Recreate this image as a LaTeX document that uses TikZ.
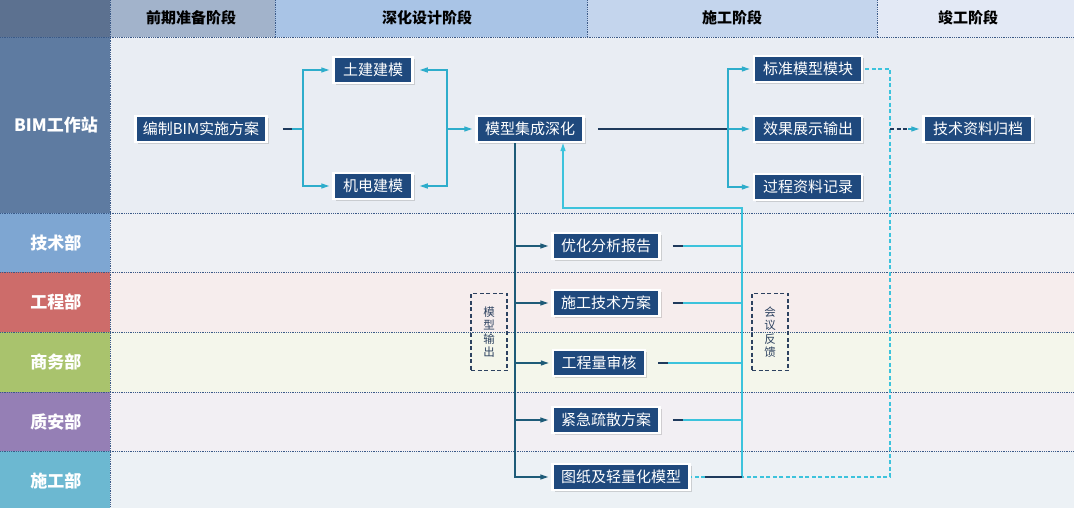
\documentclass[tikz,border=0pt]{standalone}
\usepackage{fontspec}
\setmainfont{Noto Sans CJK SC}
\usetikzlibrary{arrows.meta,shadows}
\definecolor{nodeblue}{HTML}{1F497D}
\definecolor{hdL}{HTML}{5C7190}
\definecolor{hdA}{HTML}{A2B3CB}
\definecolor{hdB}{HTML}{A9C4E6}
\definecolor{hdC}{HTML}{C4D5ED}
\definecolor{hdD}{HTML}{E3E9F5}
\definecolor{cBIM}{HTML}{5E7BA1}
\definecolor{cJS}{HTML}{7EA6D2}
\definecolor{cGC}{HTML}{CD6C6A}
\definecolor{cSW}{HTML}{A9C36D}
\definecolor{cZA}{HTML}{957FB5}
\definecolor{cSG}{HTML}{6CB8D1}
\definecolor{bBIM}{HTML}{E9EDF3}
\definecolor{bJS}{HTML}{EEF0F4}
\definecolor{bGC}{HTML}{F6EDED}
\definecolor{bSW}{HTML}{F4F6EB}
\definecolor{bZA}{HTML}{F2EFF3}
\definecolor{bSG}{HTML}{ECF1F5}
\definecolor{gridc}{HTML}{3B5A88}
\definecolor{cyanl}{HTML}{2EADCB}
\definecolor{feedc}{HTML}{3CC3DC}
\definecolor{darkl}{HTML}{1E5B78}
\definecolor{navyl}{HTML}{1F3A5C}
\definecolor{boxdash}{HTML}{2D4260}
\begin{document}
\begin{tikzpicture}[x=1pt,y=-1pt,
  box/.style={fill=nodeblue,draw=white,line width=2.5pt,text=white,
    font=\fontsize{15}{16}\selectfont,minimum height=26pt,inner xsep=4pt,inner ysep=0pt,
    drop shadow={shadow xshift=2pt,shadow yshift=-2pt,opacity=0.3}},
  lane/.style={text=white,font=\bfseries\fontsize{17}{19}\selectfont},
  phase/.style={text=black,font=\bfseries\fontsize{15}{17}\selectfont},
  grid/.style={draw=gridc,line width=0.9pt,dash pattern=on 0.9pt off 0.9pt},
  tip/.style={-{Triangle[length=8pt,width=5pt]}},
  cy/.style={draw=cyanl,line width=1.3pt},
  dk/.style={draw=darkl,line width=1.3pt},
  fb/.style={draw=feedc,line width=1.3pt},
  dcy/.style={draw=feedc,line width=1.3pt,dash pattern=on 4pt off 2.5pt},
  note/.style={draw=boxdash,line width=1.4pt,dash pattern=on 4pt off 2.5pt,
    minimum width=36pt,minimum height=77pt,text=boxdash,align=center,
    font=\fontsize{11.5}{13.5}\selectfont}]
\useasboundingbox (0,0) rectangle (1074,508);
% header
\fill[hdL] (0,0) rectangle (110,37);
\fill[hdA] (110,0) rectangle (275,37);
\fill[hdB] (275,0) rectangle (587,37);
\fill[hdC] (587,0) rectangle (877,37);
\fill[hdD] (877,0) rectangle (1074,37);
% lanes
\fill[cBIM] (0,37) rectangle (110,213);
\fill[cJS] (0,213) rectangle (110,272);
\fill[cGC] (0,272) rectangle (110,332);
\fill[cSW] (0,332) rectangle (110,392);
\fill[cZA] (0,392) rectangle (110,451);
\fill[cSG] (0,451) rectangle (110,508);
\fill[bBIM] (110,37) rectangle (1074,213);
\fill[bJS] (110,213) rectangle (1074,272);
\fill[bGC] (110,272) rectangle (1074,332);
\fill[bSW] (110,332) rectangle (1074,392);
\fill[bZA] (110,392) rectangle (1074,451);
\fill[bSG] (110,451) rectangle (1074,508);
% grid
\foreach \yy in {37,213,272,332,392,451} \draw[grid] (0,\yy) -- (1074,\yy);
\draw[grid] (110,0) -- (110,508);
\foreach \xx in {275,587,877} \draw[grid] (\xx,0) -- (\xx,37);
% header texts
\node[phase] (p1) at (191,18) {前期准备阶段};
\node[phase] (p2) at (427,18) {深化设计阶段};
\node[phase] (p3) at (732,18) {施工阶段};
\node[phase] (p4) at (968,18) {竣工阶段};
% lane texts
\node[lane] (l1) at (56,125) {BIM工作站};
\node[lane] (l2) at (56,243) {技术部};
\node[lane] (l3) at (56,302) {工程部};
\node[lane] (l4) at (56,362) {商务部};
\node[lane] (l5) at (56,422) {质安部};
\node[lane] (l6) at (56,481) {施工部};
% nodes
\node[box,minimum width=131pt] (plan) at (201,129) {编制BIM实施方案};
\node[box,minimum width=79pt] (tujian) at (373,70) {土建建模};
\node[box,minimum width=79pt] (jidian) at (373,186) {机电建模};
\node[box,minimum width=107pt] (jicheng) at (530,129) {模型集成深化};
\node[box,minimum width=108pt] (biaozhun) at (808,69) {标准模型模块};
\node[box,minimum width=108pt] (xiaoguo) at (808,129) {效果展示输出};
\node[box,minimum width=108pt] (guocheng) at (808,187) {过程资料记录};
\node[box,minimum width=109pt] (guidang) at (978,129) {技术资料归档};
\node[box,minimum width=107pt] (youhua) at (606,246) {优化分析报告};
\node[box,minimum width=107pt] (shigong) at (606,303) {施工技术方案};
\node[box,minimum width=92pt] (gongcheng) at (599,363) {工程量审核};
\node[box,minimum width=107pt] (jinji) at (606,420) {紧急疏散方案};
\node[box,minimum width=137pt] (tuzhi) at (621,477) {图纸及轻量化模型};
\node[note] (out) at (489,332) {模\\型\\输\\出};
\node[note] (fbk) at (770,332) {会\\议\\反\\馈};
% junctions
\coordinate (j1) at (303,0);
\coordinate (j2) at (447,0);
\coordinate (j3) at (728,0);
\coordinate (j4) at (515,0);
\coordinate (j5) at (742,0);
\coordinate (j6) at (563,208);
\coordinate (j7) at (890,0);
% top-left connectors
\draw[draw=navyl,line width=1.3pt] ([xshift=15pt]plan.east) -- ([xshift=24pt]plan.east);
\draw[cy] ([xshift=24pt]plan.east) -- (plan.east -| j1);
\draw[cy,tip,shorten >=3pt] (plan.east -| j1) |- (tujian.west);
\draw[cy,tip,shorten >=3pt] (plan.east -| j1) |- (jidian.west);
\draw[cy,tip,shorten >=6pt] (jicheng.west -| j2) |- (tujian.east);
\draw[cy,tip,shorten >=6pt] (jicheng.west -| j2) |- (jidian.east);
\draw[cy,tip,shorten >=3pt] (jicheng.west -| j2) -- (jicheng.west);
% top-right connectors
\draw[draw=navyl,line width=1.3pt] ([xshift=13pt]jicheng.east) -- (jicheng.east -| j3);
\draw[cy,tip,shorten >=3pt] (jicheng.east -| j3) -- (xiaoguo.west);
\draw[cy,tip,shorten >=3pt] (jicheng.east -| j3) |- (biaozhun.west);
\draw[cy,tip,shorten >=3pt] (jicheng.east -| j3) |- (guocheng.west);
% dashed archive links
\draw[dcy] ([xshift=2pt]biaozhun.east) -- (biaozhun.east -| j7) -- (tuzhi.east -| j7) -- (tuzhi.east);
\draw[draw=navyl,line width=1.3pt,dash pattern=on 4pt off 2.5pt] (guidang.west -| j7) -- ([xshift=-14pt]guidang.west);
\draw[cy,tip,shorten >=3pt] ([xshift=-14pt]guidang.west) -- (guidang.west);
% model output
\draw[dk,tip,shorten >=3pt] (jicheng.south -| j4) |- (tuzhi.west);
\draw[dk,tip,shorten >=3pt] (jicheng.south -| j4) |- (youhua.west);
\draw[dk,tip,shorten >=3pt] (jicheng.south -| j4) |- (shigong.west);
\draw[dk,tip,shorten >=3pt] (jicheng.south -| j4) |- (gongcheng.west);
\draw[dk,tip,shorten >=3pt] (jicheng.south -| j4) |- (jinji.west);
% feedback
\draw[fb,tip] ([xshift=14pt]tuzhi.east) -- (tuzhi.east -| j5) -- (j5 |- j6) -- (j6) -- (j6 |- jicheng.south);
\draw[fb] ([xshift=12pt]youhua.east) -- (youhua.east -| j5);
\draw[fb] ([xshift=12pt]shigong.east) -- (shigong.east -| j5);
\draw[fb] ([xshift=12pt]gongcheng.east) -- (gongcheng.east -| j5);
\draw[fb] ([xshift=12pt]jinji.east) -- (jinji.east -| j5);
\foreach \n in {youhua,shigong,gongcheng,jinji}
  \draw[draw=navyl,line width=1.3pt] ([xshift=12pt]\n.east) -- ([xshift=22pt]\n.east);
\draw[draw=navyl,line width=1.3pt] ([xshift=14pt]tuzhi.east) -- (tuzhi.east -| j5);
\end{tikzpicture}
\end{document}
